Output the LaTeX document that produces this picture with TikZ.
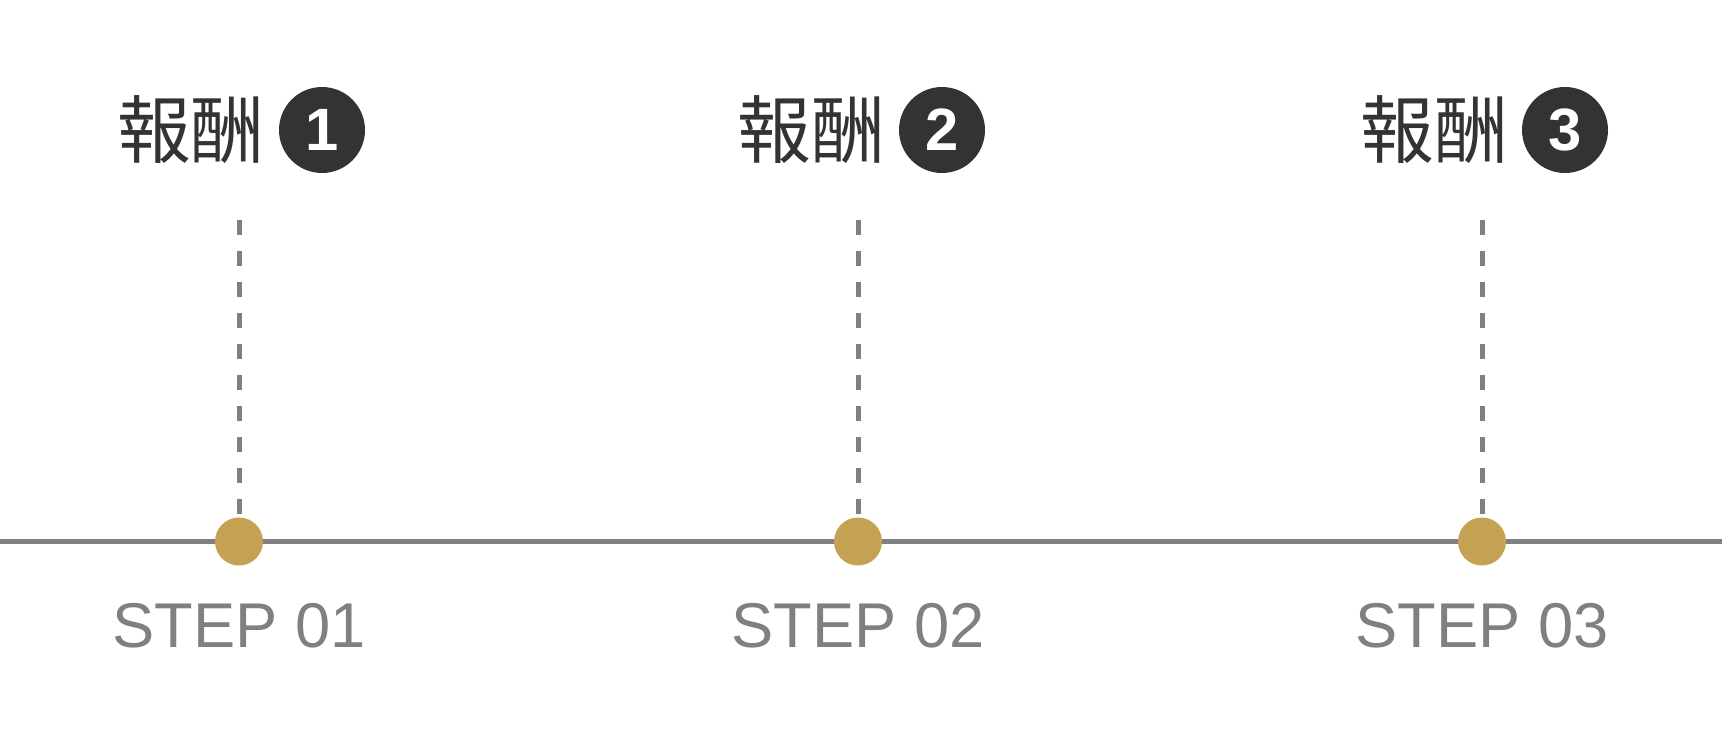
\documentclass[tikz,border=0pt]{standalone}
\usepackage{fontspec}
\setmainfont{Liberation Sans}
\newfontfamily\cjk{Noto Sans CJK JP}
\usepackage{tikz}
\usetikzlibrary{positioning}
\definecolor{linegray}{HTML}{808080}
\definecolor{gold}{HTML}{C5A253}
\definecolor{dark}{HTML}{333333}
\tikzset{
	axis/.append style={
		draw=linegray,
		line width=0.1cm,
	},
	guide/.append style={
		draw=linegray,
		line width=0.1cm,
		dash pattern=on 0.3cm off 0.32cm,
	},
	dot/.append style={
		circle,
		fill=gold,
		minimum size=0.96cm,
		inner sep=0mm,
	},
	num/.append style={
		circle,
		fill=dark,
		text=white,
		minimum size=1.72cm,
		inner sep=0mm,
		font={\fontsize{34}{34}\selectfont\bfseries}
	},
	title/.append style={
		text=dark,
		inner sep=0mm,
		font={\fontsize{42}{42}\selectfont\cjk}
	},
	steplabel/.append style={
		text=linegray,
		inner sep=0mm,
		anchor=base,
		font={\fontsize{36}{36}\selectfont}
	}
}

\begin{document}
\begin{tikzpicture}
	\useasboundingbox (0,0) rectangle (34.5,15);
	\coordinate (l) at (0,4.17);
	\coordinate (r) at (34.44,4.17);
	\draw[axis] (l) -- (r);
	
	\node[dot](d1) at (4.78,4.17) {};
	\node[dot](d2) at (17.16,4.17) {};
	\node[dot](d3) at (29.64,4.17) {};
	
	\coordinate (t1) at (4.78,10.6);
	\coordinate (t2) at (17.16,10.6);
	\coordinate (t3) at (29.64,10.6);
	\draw[guide] (t1) -- (d1);
	\draw[guide] (t2) -- (d2);
	\draw[guide] (t3) -- (d3);
	
	\node[num](n1) at (6.44,12.4) {1};
	\node[num](n2) at (18.84,12.4) {2};
	\node[num](n3) at (31.30,12.4) {3};
	\node[title](h1)[left = 0.27cm of n1] {報酬};
	\node[title](h2)[left = 0.27cm of n2] {報酬};
	\node[title](h3)[left = 0.27cm of n3] {報酬};
	
	\node[steplabel](s1)[below = 1.63cm of d1, anchor=base] {STEP 01};
	\node[steplabel](s2)[below = 1.63cm of d2, anchor=base] {STEP 02};
	\node[steplabel](s3)[below = 1.63cm of d3, anchor=base] {STEP 03};
\end{tikzpicture}
\end{document}
